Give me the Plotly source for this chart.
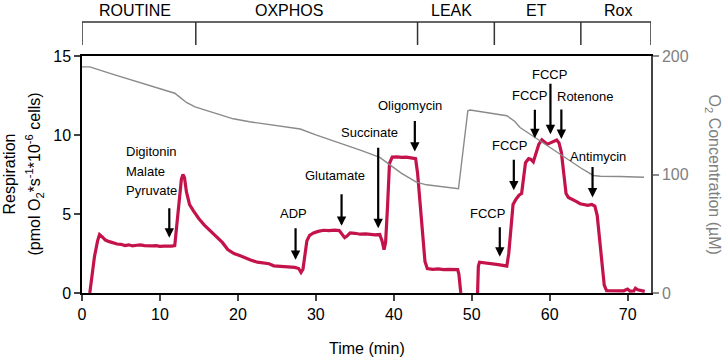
import plotly.graph_objects as go

# ---------------- data ----------------
resp_time = [1.0, 1.3, 1.6, 2.0, 2.25, 2.6, 3.0, 3.5, 4.0, 4.5, 5.0, 5.5, 6.0, 6.5, 7.0, 7.5, 8.0, 8.5,
             9.0, 9.5, 10.0, 10.5, 11.0, 11.5, 11.9, 12.1, 12.4, 12.75, 12.95, 13.15, 13.4, 13.8, 14.3,
             15.0, 15.7, 16.5, 17.3, 18.0, 18.7, 19.5, 20.3, 21.0, 21.7, 22.5, 23.3, 24.0, 24.6, 25.3,
             26.0, 26.7, 27.3, 27.8, 28.1, 28.35, 28.6, 28.85, 29.2, 29.7, 30.3, 31.0, 31.7, 32.4, 33.0,
             33.4, 33.7, 34.0, 34.4, 35.0, 35.7, 36.4, 37.0, 37.6, 38.2, 38.5, 38.75, 38.95, 39.2, 39.45,
             39.8, 40.4, 41.0, 41.6, 42.2, 42.8, 43.05, 43.35, 43.7, 44.0, 44.3, 45.0, 45.7, 46.4, 47.0,
             47.6, 48.2, 48.35, 48.6, None, 50.75, 50.85, 51.0, 51.6, 52.2, 52.8, 53.4, 54.0, 54.5, 54.75,
             55.0, 55.3, 55.7, 56.1, 56.4, 56.65, 56.9, 57.3, 57.6, 57.9, 58.2, 58.6, 59.0, 59.3, 59.7,
             60.1, 60.5, 60.9, 61.2, 61.5, 61.8, 62.1, 62.4, 62.9, 63.4, 63.9, 64.4, 64.9, 65.4, 65.8,
             66.1, 66.4, 66.7, 67.0, 67.3, 67.8, 68.4, 69.0, 69.5, 70.0, 70.3, 70.8, 71.0, 71.3, 71.7, 72.2]
resp_value = [0.0, 1.2, 2.3, 3.3, 3.7, 3.55, 3.35, 3.25, 3.15, 3.1, 3.08, 3.0, 3.05, 2.98, 3.02, 3.05, 3.0, 2.97,
              2.98, 3.0, 2.95, 2.97, 2.95, 2.97, 3.0, 4.0, 5.8, 7.2, 7.5, 7.3, 6.4, 5.6, 5.2,
              4.7, 4.3, 3.9, 3.55, 3.2, 2.75, 2.5, 2.35, 2.2, 2.07, 1.95, 1.9, 1.85, 1.72, 1.7,
              1.68, 1.65, 1.62, 1.55, 1.3, 1.5, 2.4, 3.3, 3.65, 3.8, 3.9, 3.97, 3.95, 3.98, 3.95,
              3.7, 3.5, 3.6, 3.8, 3.78, 3.72, 3.74, 3.7, 3.68, 3.7, 3.3, 2.75, 3.2, 5.5, 8.2,
              8.6, 8.62, 8.58, 8.6, 8.55, 8.5, 7.6, 5.9, 3.5, 2.0, 1.55, 1.5, 1.52, 1.48, 1.5,
              1.47, 1.48, 1.2, 0.0, None, 0.0, 1.7, 1.95, 1.92, 1.9, 1.88, 1.8, 1.75, 1.7, 2.5,
              4.2, 5.6, 5.95, 6.2, 6.3, 7.5, 8.25, 8.5, 8.45, 8.3, 8.8, 9.4, 9.7, 9.6, 9.42,
              9.5, 9.6, 9.68, 9.5, 8.9, 7.6, 6.3, 6.05, 5.95, 5.8, 5.65, 5.6, 5.55, 5.6, 5.5,
              4.9, 3.3, 1.6, 0.5, 0.15, 0.15, 0.13, 0.15, 0.14, 0.25, 0.12, 0.13, 0.3, 0.2, 0.15, 0.1]

o2_time = [0.0, 1.0, 4.0, 8.0, 11.9, 12.5, 13.4, 14.5, 16.0, 18.0, 19.4, 21.5, 24.0, 26.0, 28.0,
           30.0, 32.2, 34.0, 35.7, 38.2, 39.5, 41.0, 42.9, 44.2, 48.3, 49.5, 49.8, 52.0, 54.5,
           55.5, 56.2, 57.5, 58.7, 60.5, 62.2, 64.0, 65.6, 66.5, 69.0, 72.1]
o2_value = [190.8, 190.8, 184.5, 176.5, 168.6, 165.5, 160.8, 157.0, 153.8, 149.5, 147.0, 144.5, 142.0, 140.0, 138.4,
            133.5, 128.6, 124.5, 120.5, 114.5, 108.0, 101.0, 93.5, 91.3, 88.0, 153.8, 154.4, 152.0, 149.6,
            145.0, 139.7, 134.0, 128.6, 120.5, 113.2, 105.5, 99.2, 98.5, 98.3, 97.7]

event_labels = ["Digitonin|Malate|Pyruvate", "ADP", "Glutamate", "Succinate", "Oligomycin",
                "FCCP", "FCCP", "FCCP", "FCCP", "Rotenone", "Antimycin"]
event_times = [11.2, 27.4, 33.3, 38.0, 42.7, 53.6, 55.4, 58.1, 60.1, 61.5, 65.5]
event_tip_values = [3.5, 2.1, 4.25, 4.1, 8.95, 2.3, 6.5, 9.8, 10.05, 9.75, 6.05]

phase_names = ["ROUTINE", "OXPHOS", "LEAK", "ET", "Rox"]
phase_bounds = [0, 14.6, 43.05, 52.9, 64.0, 73.0]
phase_label_x = [6.86, 26.55, 47.45, 58.36, 68.74]

x_ticks = [0, 10, 20, 30, 40, 50, 60, 70]
y_ticks = [0, 5, 10, 15]
y2_ticks = [0, 100, 200]

# ---------------- styles (pixels) ----------------
arrow_len = [31, 33, 33, 82, 32, 31, 32, 30, 52, 31, 32]
label_dx = [-45.3, -2.3, -6.6, -8.3, -5.2, -11.9, -4.0, -5.3, -0.9, 23.5, 5.3]
label_dy = [86.3, 46, 50, 95.6, 45.7, 42.7, 45, 42.3, 60, 42, 40.6]

FONT = "Liberation Sans, Arial, sans-serif"
RED = "#C3134A"
GREY = "#8a8a8a"

fig = go.Figure()
fig.add_trace(go.Scatter(x=o2_time, y=o2_value, mode="lines", yaxis="y2",
                         line=dict(color=GREY, width=1.4), showlegend=False, hoverinfo="skip"))
fig.add_trace(go.Scatter(x=resp_time, y=resp_value, mode="lines", connectgaps=False,
                         line=dict(color=RED, width=3.2), showlegend=False))

annotations = []
for i, (lab, t, v) in enumerate(zip(event_labels, event_times, event_tip_values)):
    annotations.append(dict(x=t, y=v, xref="x", yref="y", text="", showarrow=True,
                            ax=0, ay=-arrow_len[i], arrowhead=2, arrowsize=0.85, arrowwidth=2.2,
                            arrowcolor="black", standoff=0))
    if "|" in lab:
        parts = lab.split("|")
        offs = [label_dy[i], label_dy[i] - 20, label_dy[i] - 39]
        for p, dy in zip(parts, offs):
            annotations.append(dict(x=t, y=v, xref="x", yref="y", text=p, showarrow=False,
                                    xanchor="left", yanchor="middle", xshift=label_dx[i], yshift=dy,
                                    font=dict(size=13, color="black", family=FONT)))
    else:
        annotations.append(dict(x=t, y=v, xref="x", yref="y", text=lab, showarrow=False,
                                xanchor="center", yanchor="middle", xshift=label_dx[i], yshift=label_dy[i],
                                font=dict(size=13, color="black", family=FONT)))

for name, px in zip(phase_names, phase_label_x):
    annotations.append(dict(x=px, y=1.194, xref="x", yref="paper", text=name, showarrow=False,
                            xanchor="center", yanchor="middle",
                            font=dict(size=16, color="black", family=FONT)))

# axis titles
annotations.append(dict(x=0, y=0.5, xref="paper", yref="paper", xshift=-73, text="Respiration",
                        showarrow=False, textangle=-90, xanchor="center", yanchor="middle",
                        font=dict(size=16, color="black", family=FONT)))
annotations.append(dict(x=0, y=0.5, xref="paper", yref="paper", xshift=-48,
                        text="(pmol O<sub>2</sub>*s<sup>-1</sup>*10<sup>-6</sup> cells)",
                        showarrow=False, textangle=-90, xanchor="center", yanchor="middle",
                        font=dict(size=16, color="black", family=FONT)))
annotations.append(dict(x=1, y=0.5, xref="paper", yref="paper", xshift=62,
                        text="O<sub>2</sub> Concentration (µM)",
                        showarrow=False, textangle=90, xanchor="center", yanchor="middle",
                        font=dict(size=16, color="#808080", family=FONT)))
annotations.append(dict(x=0.5, y=0, xref="paper", yref="paper", yshift=-55, text="Time (min)",
                        showarrow=False, xanchor="center", yanchor="middle",
                        font=dict(size=16, color="black", family=FONT)))

shapes = [dict(type="line", xref="x", yref="paper", x0=phase_bounds[0], x1=phase_bounds[-1],
               y0=1.1435, y1=1.1435, line=dict(color="#333333", width=1.5))]
for b in phase_bounds:
    shapes.append(dict(type="line", xref="x", yref="paper", x0=b, x1=b, y0=1.0464, y1=1.1435,
                       line=dict(color="#333333", width=1.5)))

fig.update_layout(
    width=724, height=360,
    margin=dict(l=82, r=73, t=56, b=67),
    paper_bgcolor="white", plot_bgcolor="white",
    font=dict(family=FONT, size=16, color="black"),
    xaxis=dict(range=[0, 73], tickvals=x_ticks, ticks="outside", ticklen=6, tickwidth=1.5,
               showline=True, linecolor="black", linewidth=1.5, mirror=True, showgrid=False,
               zeroline=False, automargin=False, tickfont=dict(size=16)),
    yaxis=dict(range=[0, 15], tickvals=y_ticks, ticks="outside", ticklen=6, tickwidth=1.5,
               showline=True, linecolor="black", linewidth=1.5, showgrid=False, zeroline=False,
               automargin=False, tickfont=dict(size=16)),
    yaxis2=dict(range=[0, 200], tickvals=y2_ticks, ticks="outside", ticklen=6, tickwidth=1.5,
                tickcolor=GREY, overlaying="y", side="right", showline=True, linecolor="#444444",
                linewidth=1.5, showgrid=False, zeroline=False, automargin=False,
                tickfont=dict(size=16, color="#808080")),
    annotations=annotations,
    shapes=shapes,
)

fig.write_html("out.html")
